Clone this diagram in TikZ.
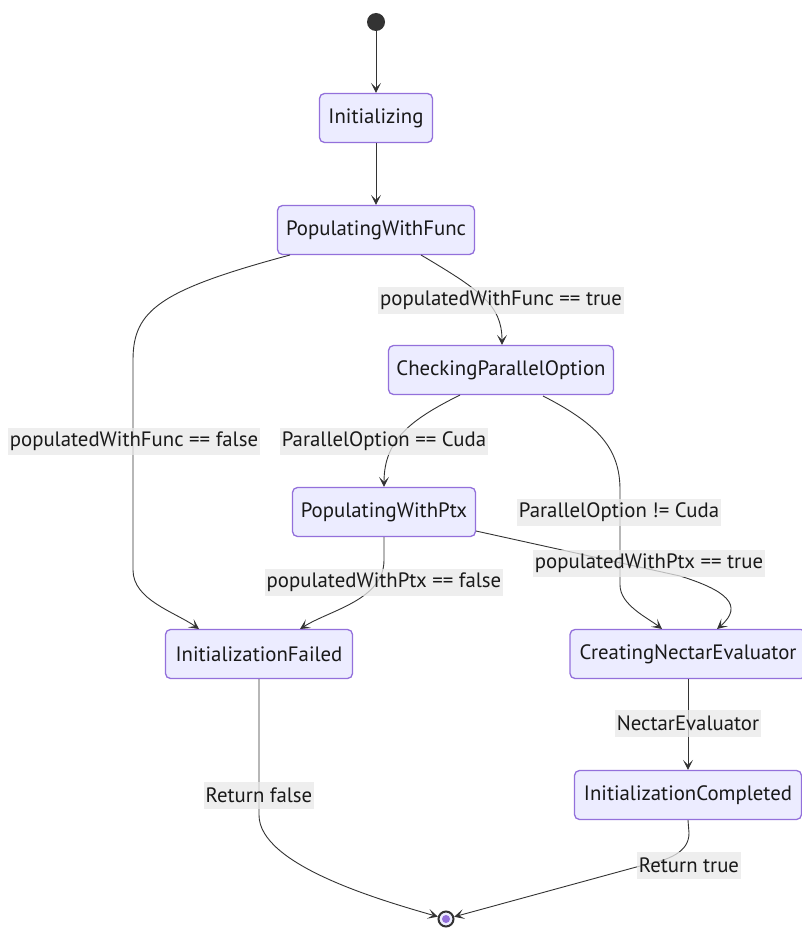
\documentclass[tikz,border=0pt]{standalone}
\usepackage{fontspec}
\setmainfont{PT Sans}
\usetikzlibrary{arrows.meta}
\definecolor{nodefill}{RGB}{236,236,255}
\definecolor{nodeline}{RGB}{147,112,219}
\definecolor{edge}{RGB}{51,51,51}
\definecolor{lblfill}{RGB}{232,232,232}
\definecolor{txt}{RGB}{25,25,25}
\tikzset{
  state/.style={draw=nodeline, fill=nodefill, line width=1.3pt, rounded corners=5pt,
    minimum height=49pt, inner sep=4pt, text=txt, font=\fontsize{20.8}{22}\selectfont},
  lbl/.style={fill=lblfill, fill opacity=0.75, text opacity=1, text=txt, inner sep=2pt,
    minimum height=27pt, font=\fontsize{20.8}{22}\selectfont},
  conn/.style={draw=edge, line width=0.9pt, -{Stealth[length=10pt,width=10pt,inset=5pt]}},
}
\begin{document}
\begin{tikzpicture}[x=1pt,y=-1pt]
\useasboundingbox (0,0) rectangle (801,928);
% nodes
\node[circle, fill=edge, minimum size=18pt, inner sep=0pt] (start) at (376,22) {};
\node[state, minimum width=113pt] (init) at (376,118) {Initializing};
\node[state, minimum width=197pt] (pwf) at (376,230) {PopulatingWithFunc};
\node[state, minimum width=225pt] (cpo) at (501,370) {CheckingParallelOption};
\node[state, minimum width=183pt] (pwp) at (384,512) {PopulatingWithPtx};
\node[state, minimum width=187pt] (ifail) at (259,654) {InitializationFailed};
\node[state, minimum width=236pt] (cne) at (688,654) {CreatingNectarEvaluator};
\node[state, minimum width=227pt] (icomp) at (688,795) {InitializationCompleted};
\node[circle, draw=edge, line width=2pt, fill=nodefill, minimum size=15pt, inner sep=0pt] (end) at (446,919) {};
\node[circle, fill=nodeline, minimum size=8pt, inner sep=0pt] (enddot) at (end.center) {};
% anchors
\coordinate (pwfL) at (290,255);
\coordinate (pwfR) at (421,255);
\coordinate (cpoL) at (460,395);
\coordinate (cpoR) at (543,396);
\coordinate (pwpR) at (476,531);
\coordinate (ifT1) at (199,629);
\coordinate (ifT2) at (300,629);
\coordinate (cneT1) at (662,629);
\coordinate (cneT2) at (717,629);
% edges
\draw[conn] (start) -- (init);
\draw[conn] (init) -- (pwf);
\draw[conn] (pwfL) .. controls (160,290) and (133,310) .. (133,360) -- (133,570) .. controls (133,600) and (175,612) .. (ifT1);
\draw[conn] (pwfR) .. controls (480,290) and (502,305) .. (cpo.north -| 502,0);
\draw[conn] (cpoL) .. controls (410,420) and (384,440) .. (pwp.north);
\draw[conn] (cpoR) .. controls (600,425) and (620,450) .. (620,490) -- (620,585) .. controls (620,605) and (648,618) .. (cneT1);
\draw[conn] (pwpR) -- (680,576) .. controls (725,590) and (745,605) .. (cneT2);
\draw[conn] (pwp.south) -- (384,560) .. controls (384,600) and (330,610) .. (ifT2);
\draw[conn] (cne.south -| icomp.north) -- (icomp.north);
\draw[conn] (ifail.south) -- (259,815) .. controls (259,865) and (380,900) .. (end);
\draw[conn] (icomp.south) -- (689,833) .. controls (689,852) and (670,860) .. (640,866) -- (end);
% labels
\node[lbl] (l1) at (501,300) {populatedWithFunc == true};
\node[lbl] (l2) at (134,441) {populatedWithFunc == false};
\node[lbl] (l3) at (384,441) {ParallelOption == Cuda};
\node[lbl] (l4) at (619,512) {ParallelOption != Cuda};
\node[lbl] (l5) at (649,563) {populatedWithPtx == true};
\node[lbl] (l6) at (384,582) {populatedWithPtx == false};
\node[lbl] (l7) at (688,723) {NectarEvaluator};
\node[lbl] (l8) at (259,795) {Return false};
\node[lbl] (l9) at (689,865) {Return true};
\end{tikzpicture}
\end{document}
